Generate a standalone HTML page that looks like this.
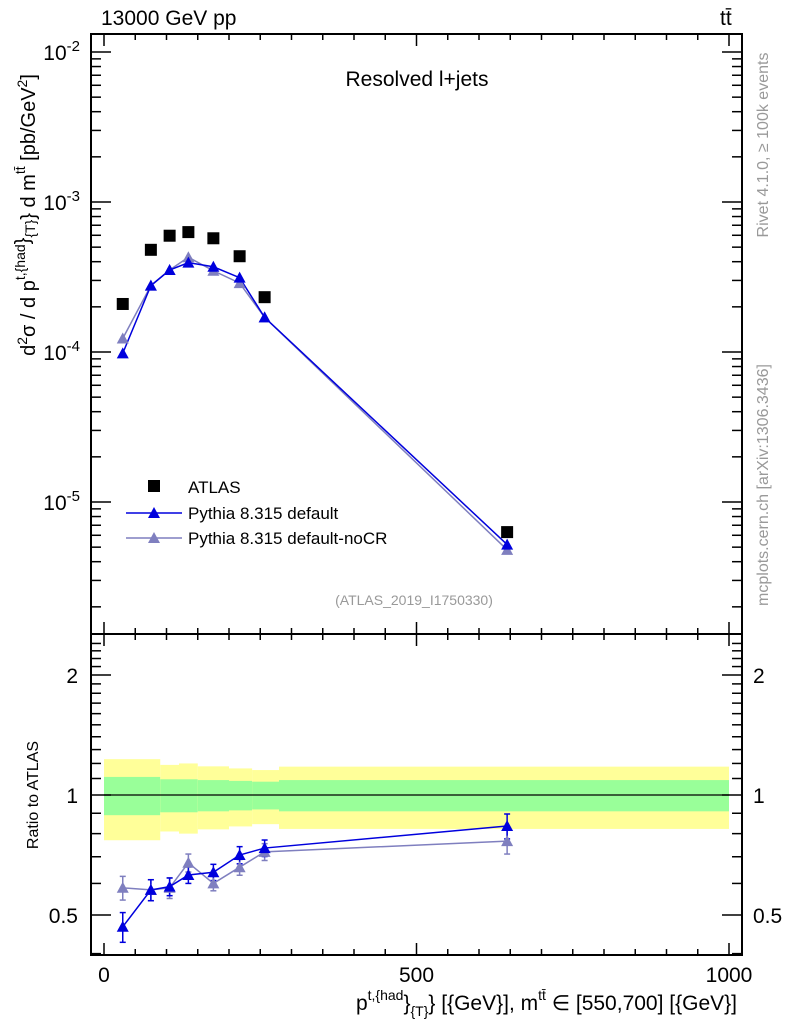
<!DOCTYPE html>
<html><head><meta charset="utf-8"><style>
body{margin:0;background:#fff;}
svg text{font-family:"Liberation Sans",sans-serif;}
</style></head><body>
<svg id="c" width="786" height="1024" xmlns="http://www.w3.org/2000/svg"></svg>
<script>
const xCenters=[30,75,105,135,175,217,257,645];
const atlas=[2.09e-4,4.8e-4,5.96e-4,6.3e-4,5.73e-4,4.35e-4,2.32e-4,6.3e-6];
const pyDef=[0.98e-4,2.77e-4,3.52e-4,3.94e-4,3.70e-4,3.13e-4,1.70e-4,5.2e-6];
const pyNoCR=[1.23e-4,2.77e-4,3.52e-4,4.28e-4,3.48e-4,2.88e-4,1.70e-4,4.8e-6];
const rDef=[0.467,0.578,0.589,0.63,0.64,0.707,0.736,0.836];
const rNoCR=[0.585,0.578,0.585,0.676,0.60,0.659,0.72,0.766];
const rDefErr=[0.04,0.035,0.03,0.03,0.03,0.035,0.035,0.06];
const rNoCRErr=[0.04,0.035,0.035,0.035,0.025,0.03,0.035,0.055];
const bandEdges=[0,90,120,150,200,237,280,1000];
const yellowErr=[0.23,0.19,0.2,0.18,0.166,0.155,0.178];
const greenErr=[0.11,0.095,0.095,0.09,0.085,0.08,0.09];
const xTicks=[0,500,1000];

const L=91,R=742,T=34,MB=634,RB=955;
const X=v=>104+v*0.625;
const Y=v=>202-150*(Math.log10(v)+3);
const YR=v=>795-398.6*Math.log10(v);
const svg=document.getElementById('c');
const NS='http://www.w3.org/2000/svg';
function mk(tag,attrs,parent){const e=document.createElementNS(NS,tag);for(const k in attrs)e.setAttribute(k,attrs[k]);(parent||svg).appendChild(e);return e;}
function txt(s,attrs){const e=mk('text',attrs);e.textContent=s;return e;}

for(let i=0;i<bandEdges.length-1;i++){
  const x0=X(bandEdges[i]),x1=X(bandEdges[i+1]);
  const y=mk('rect',{x:x0,y:YR(1+yellowErr[i]),width:x1-x0,height:YR(1-yellowErr[i])-YR(1+yellowErr[i]),fill:'#ffff99'});
  
  
  const g=mk('rect',{x:x0,y:YR(1+greenErr[i]),width:x1-x0,height:YR(1-greenErr[i])-YR(1+greenErr[i]),fill:'#99ff99'});
  
  
}
mk('line',{x1:X(0),x2:X(1000),y1:YR(1),y2:YR(1),stroke:'#000','stroke-width':1.2});

const f1=mk('rect',{x:L,y:T,width:R-L,height:MB-T,fill:'none',stroke:'#000','stroke-width':2});


const f2=mk('rect',{x:L,y:MB,width:R-L,height:RB-MB,fill:'none',stroke:'#000','stroke-width':2});



for(let v=0;v<=1000;v+=50){
  const len=(v%500===0)?12:6;const px=X(v);
  mk('line',{x1:px,x2:px,y1:T,y2:T+len,stroke:'#000','stroke-width':1.5});
  mk('line',{x1:px,x2:px,y1:MB,y2:MB+len,stroke:'#000','stroke-width':1.5});
  mk('line',{x1:px,x2:px,y1:RB,y2:RB-len,stroke:'#000','stroke-width':1.5});
  mk('line',{x1:px,x2:px,y1:MB,y2:MB-len,stroke:'#000','stroke-width':1.5});
}
xTicks.forEach(v=>{const t=txt(String(v),{x:X(v),y:982,'font-size':21,'text-anchor':'middle'});

});

for(let d=-6;d<=-2;d++){for(let m=1;m<10;m++){const v=m*Math.pow(10,d);const py=Y(v);if(py<T||py>MB)continue;
  const len=m===1?20:10;
  mk('line',{x1:L,x2:L+len,y1:py,y2:py,stroke:'#000','stroke-width':1.5});
  mk('line',{x1:R,x2:R-len,y1:py,y2:py,stroke:'#000','stroke-width':1.5});}}
[[-2,52],[-3,202],[-4,352],[-5,502]].forEach(([e,py])=>{
  const t=mk('text',{x:80,y:py+8,'font-size':21,'text-anchor':'end'});
  
  
  t.innerHTML='10<tspan dy="-9" font-size="15">'+e+'</tspan>';
});
for(let v=0.4;v<=2.5;v+=0.1){const r=Math.round(v*10)/10;const py=YR(r);if(py<MB||py>RB)continue;
  const big=(r===0.5||r===1||r===2);const len=big?20:10;
  mk('line',{x1:L,x2:L+len,y1:py,y2:py,stroke:'#000','stroke-width':1.5});
  mk('line',{x1:R,x2:R-len,y1:py,y2:py,stroke:'#000','stroke-width':1.5});}
[[0.5,'0.5'],[1,'1'],[2,'2']].forEach(([v,s])=>{
  const a=txt(s,{x:78,y:YR(v)+8,'font-size':21,'text-anchor':'end'});
  
  
  const b=txt(s,{x:753,y:YR(v)+8,'font-size':21});
  
  
});

function line(xs,ys,fy,color,name){const p=mk('polyline',{points:xs.map((x,i)=>X(x)+','+fy(ys[i])).join(' '),fill:'none',stroke:color,'stroke-width':1.5});
  
  }
function tri(x,y,color){const p=mk('polygon',{points:`${x-6},${y+5} ${x+6},${y+5} ${x},${y-6}`,fill:color});
  
  }
function errs(xs,ys,es,color){xs.forEach((x,i)=>{const px=X(x),a=YR(ys[i]+es[i]),b=YR(ys[i]-es[i]);
  mk('line',{x1:px,x2:px,y1:a,y2:b,stroke:color,'stroke-width':1.5});
  mk('line',{x1:px-3,x2:px+3,y1:a,y2:a,stroke:color,'stroke-width':1.5});
  mk('line',{x1:px-3,x2:px+3,y1:b,y2:b,stroke:color,'stroke-width':1.5});});}
const BL='#0000dd',GR='#7f7fbf';
line(xCenters,pyNoCR,Y,GR,'pythia-nocr-line');
line(xCenters,pyDef,Y,BL,'pythia-default-line');
xCenters.forEach((x,i)=>tri(X(x),Y(pyNoCR[i]),GR));
xCenters.forEach((x,i)=>tri(X(x),Y(pyDef[i]),BL));
xCenters.forEach((x,i)=>{const r=mk('rect',{x:X(x)-6,y:Y(atlas[i])-6,width:12,height:12,fill:'#000'});
  
  });
errs(xCenters,rNoCR,rNoCRErr,GR);
errs(xCenters,rDef,rDefErr,BL);
line(xCenters,rNoCR,YR,GR,'ratio-nocr-line');
line(xCenters,rDef,YR,BL,'ratio-default-line');
xCenters.forEach((x,i)=>tri(X(x),YR(rNoCR[i]),GR));
xCenters.forEach((x,i)=>tri(X(x),YR(rDef[i]),BL));

const lr=mk('rect',{x:148,y:480,width:12,height:12,fill:'#000'});


mk('line',{x1:126,x2:182,y1:513,y2:513,stroke:BL,'stroke-width':1.5});tri(154,513,BL);
mk('line',{x1:126,x2:182,y1:538,y2:538,stroke:GR,'stroke-width':1.5});tri(154,538,GR);
[['ATLAS',493],['Pythia 8.315 default',519],['Pythia 8.315 default-noCR',544]].forEach(([s,y])=>{
  const t=txt(s,{x:188,y:y,'font-size':17});
  
  });

const a1=txt('13000 GeV pp',{x:101,y:25,'font-size':21});
const a2=txt('tt̄',{x:720,y:25,'font-size':21});
const a3=txt('Resolved l+jets',{x:417,y:86,'font-size':21,'text-anchor':'middle'});
const a4=txt('(ATLAS_2019_I1750330)',{x:414,y:605,'font-size':14,fill:'#999','text-anchor':'middle'});
const a5=txt('Rivet 4.1.0, ≥ 100k events',{x:0,y:0,'font-size':16,fill:'#999','text-anchor':'middle',transform:'translate(768,145) rotate(-90)'});
const a6=txt('mcplots.cern.ch [arXiv:1306.3436]',{x:0,y:0,'font-size':16,fill:'#999','text-anchor':'middle',transform:'translate(768,485) rotate(-90)'});
const a7=txt('Ratio to ATLAS',{x:0,y:0,'font-size':16,'text-anchor':'middle',transform:'translate(38,795) rotate(-90)'});
const yt=mk('text',{x:0,y:0,'font-size':20,'text-anchor':'middle',transform:'translate(35,215) rotate(-90)'});


yt.innerHTML='d<tspan dy="-8" font-size="14">2</tspan><tspan dy="8">σ / d p</tspan><tspan dy="-10" font-size="14">t,{had</tspan><tspan dy="4">}</tspan><tspan dy="6" font-size="14">{T}</tspan><tspan dy="0">} d m</tspan><tspan dy="-10" font-size="14">tt̄</tspan><tspan dy="10"> [pb/GeV</tspan><tspan dy="-8" font-size="14">2</tspan><tspan dy="8">]</tspan>';
const xt=mk('text',{x:737,y:1010,'font-size':21,'text-anchor':'end'});


xt.innerHTML='p<tspan dy="-10" font-size="14">t,{had</tspan><tspan dy="10">}</tspan><tspan dy="6" font-size="14">{T}</tspan><tspan dy="-6">} [{GeV}], m</tspan><tspan dy="-10" font-size="14">tt̄</tspan><tspan dy="10"> ∈ [550,700] [{GeV}]</tspan>';
</script>
</body></html>
